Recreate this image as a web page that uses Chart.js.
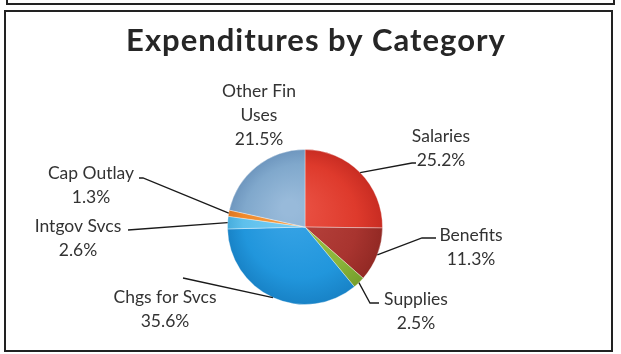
<!DOCTYPE html>
<html>
<head>
<meta charset="utf-8">
<script src="https://cdn.jsdelivr.net/npm/chart.js"></script>
<style>
  html, body { margin: 0; padding: 0; background: #fff; }
  #wrap { position: relative; width: 621px; height: 354px; }
</style>
</head>
<body>
<div id="wrap"><canvas id="pie"></canvas></div>
<script>
// chart data
var categories = ['Salaries', 'Benefits', 'Supplies', 'Chgs for Svcs', 'Intgov Svcs', 'Cap Outlay', 'Other Fin Uses'];
var shares = [25.2, 11.3, 2.5, 35.6, 2.6, 1.3, 21.5];
var labelLines = [
    ['Salaries'], ['Benefits'], ['Supplies'], ['Chgs for Svcs'],
    ['Intgov Svcs'], ['Cap Outlay'], ['Other Fin', 'Uses']
];
var titleText = 'Expenditures by Category';

// colours: [light, base, dark]
var sliceColors = [
    ['#ea5244', '#de3a2c', '#c82c22'],
    ['#b8443e', '#a8342f', '#922924'],
    ['#9cc448', '#8ab43a', '#769e2c'],
    ['#38a4e6', '#2196dc', '#1882c6'],
    ['#76ccf2', '#5ec0ec', '#46acdc'],
    ['#f49c44', '#f0892a', '#dc7620'],
    ['#98bada', '#80a8cc', '#6e96be']
];

// label placement relative to pie centre: label centre x, first baseline y, leader path points
var labelSpots = [
    { x: 136, y: -85, path: [[107, -64], [111, -64]] },
    { x: 166, y: 14, path: [[117, 11], [131, 11]] },
    { x: 111, y: 78, path: [[65, 76], [74, 76]] },
    { x: -140, y: 76, path: [[-122, 51]] },
    { x: -227, y: 5, path: [[-177, 3]] },
    { x: -214, y: -48, path: [[-162, -49], [-166, -49]] },
    { x: -46, y: -130, path: null }
];

var FONT = 'Lato, "Open Sans", sans-serif';

function sliceFill(context) {
    var chart = context.chart;
    var area = chart.chartArea;
    var c = sliceColors[context.dataIndex];
    if (!area) return c[1];
    var cx = (area.left + area.right) / 2;
    var cy = (area.top + area.bottom) / 2;
    var r = Math.min(area.right - area.left, area.bottom - area.top) / 2;
    var g = chart.ctx.createRadialGradient(cx - r * 0.2, cy - r * 0.25, r * 0.1, cx, cy, r);
    g.addColorStop(0, c[0]);
    g.addColorStop(0.7, c[1]);
    g.addColorStop(1, c[2]);
    return g;
}

var decorations = {
    id: 'decorations',
    beforeDraw: function(chart) {
        var ctx = chart.ctx;
        ctx.save();
        ctx.strokeStyle = '#222';
        ctx.lineWidth = 2;
        // bottom edge of the box above
        ctx.beginPath();
        ctx.moveTo(7, 0);
        ctx.lineTo(7, 4);
        ctx.lineTo(614, 4);
        ctx.lineTo(614, 0);
        ctx.stroke();
        // frame of this chart
        ctx.strokeRect(5, 11, 607, 340);
        ctx.restore();
    },
    afterDraw: function(chart) {
        var ctx = chart.ctx;
        var meta = chart.getDatasetMeta(0);
        ctx.save();

        // title
        ctx.fillStyle = '#262626';
        ctx.font = 'bold 31px ' + FONT;
        ctx.letterSpacing = '1px';
        ctx.textAlign = 'center';
        ctx.textBaseline = 'alphabetic';
        ctx.fillText(titleText, 316, 51);
        ctx.letterSpacing = '0px';

        meta.data.forEach(function(arc, i) {
            var p = arc.getProps(['x', 'y', 'startAngle', 'endAngle', 'outerRadius'], true);
            var mid = (p.startAngle + p.endAngle) / 2;
            var ax = p.x + Math.cos(mid) * p.outerRadius;
            var ay = p.y + Math.sin(mid) * p.outerRadius;
            var spot = labelSpots[i];

            if (spot.path) {
                ctx.strokeStyle = '#1a1a1a';
                ctx.lineWidth = 1.3;
                ctx.beginPath();
                ctx.moveTo(ax, ay);
                spot.path.forEach(function(pt) {
                    ctx.lineTo(p.x + pt[0], p.y + pt[1]);
                });
                ctx.stroke();
            }

            var lines = labelLines[i].concat([shares[i].toFixed(1) + '%']);
            ctx.fillStyle = '#333';
            ctx.font = '17.5px ' + FONT;
            ctx.textAlign = 'center';
            lines.forEach(function(t, k) {
                ctx.fillText(t, p.x + spot.x, p.y + spot.y + k * 24);
            });
        });
        ctx.restore();
    }
};

new Chart(document.getElementById('pie'), {
    type: 'pie',
    data: {
        labels: categories,
        datasets: [{
            data: shares,
            backgroundColor: sliceFill,
            borderColor: 'rgba(255,255,255,0.35)',
            borderWidth: 1
        }]
    },
    options: {
        responsive: true,
        maintainAspectRatio: false,
        animation: false,
        events: [],
        layout: { padding: { left: 227, right: 238, top: 149, bottom: 49 } },
        plugins: {
            legend: { display: false },
            title: { display: false },
            tooltip: { enabled: false }
        }
    },
    plugins: [decorations]
});
</script>
</body>
</html>
